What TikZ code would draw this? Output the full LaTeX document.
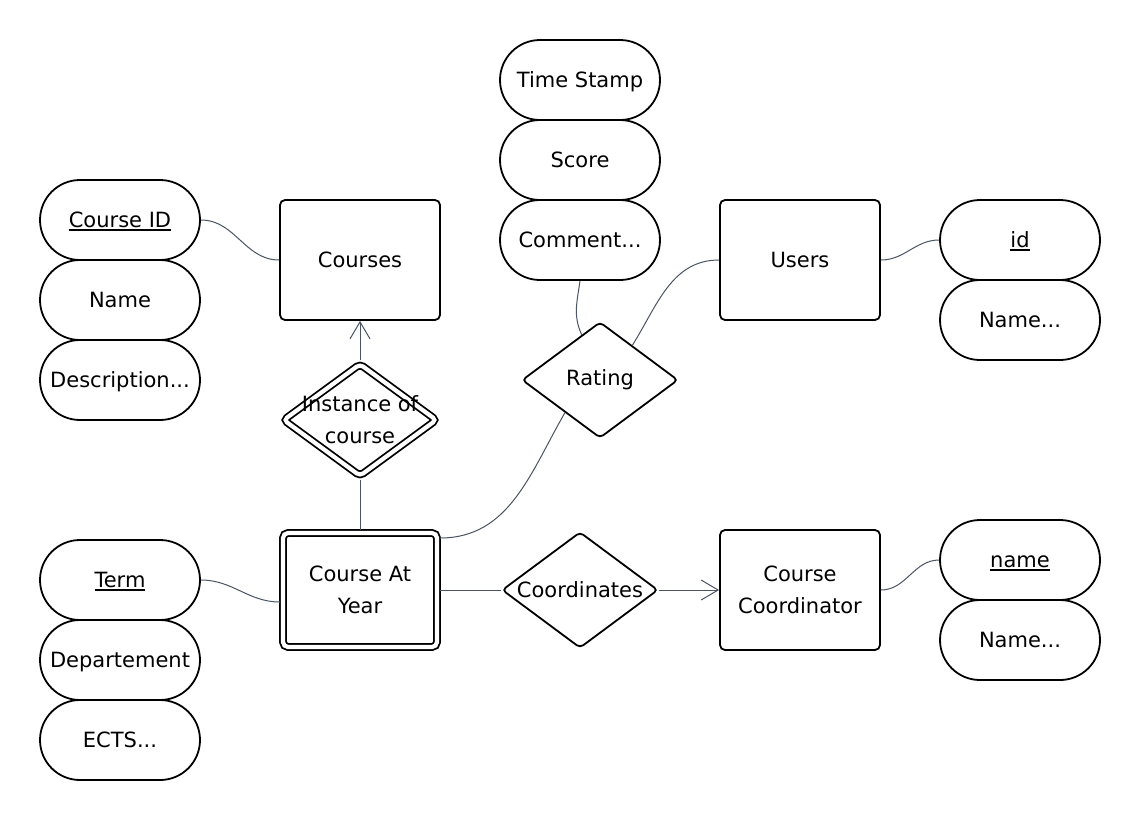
\documentclass[tikz,border=0pt]{standalone}
\usepackage{fontspec}
\setmainfont{DejaVu Sans}
\usetikzlibrary{arrows.meta,positioning,shapes.geometric,calc}
\definecolor{linkcol}{RGB}{74,84,98}

\begin{document}
\begin{tikzpicture}[x=1pt,y=1pt]
\tikzstyle{attr}=[draw, line width=1.8pt, rounded corners=40pt, minimum width=160pt, minimum height=80pt, text height=15pt, text depth=0pt, font=\fontsize{21}{32}\selectfont]
\tikzstyle{entity}=[draw, line width=1.8pt, rounded corners=5pt, minimum width=160pt, minimum height=120pt, align=center, font=\fontsize{21}{32}\selectfont]
\tikzstyle{weakentity}=[entity, double, double distance=4.2pt, minimum width=154pt, minimum height=114pt, outer sep=3pt]
\tikzstyle{rel}=[diamond, draw, line width=1.8pt, rounded corners=4pt, minimum width=156pt, minimum height=116pt, inner sep=-15pt, align=center, font=\fontsize{21}{32}\selectfont]
\tikzstyle{weakrel}=[rel, double, double distance=4.2pt, minimum width=155pt, minimum height=114pt, outer sep=3pt]
\tikzstyle{link}=[draw=linkcol, line width=1pt]
\tikzstyle{linkarrow}=[link, -{Straight Barb[length=17pt,width=20pt]}]

% key attribute, underlined
\newcommand{\keyattr}[1]{\setbox0\hbox{#1}\rlap{\rule[-3pt]{\wd0}{1.4pt}}\box0}

\path[use as bounding box, fill=white] (0,0) rectangle (1140,-820);

%% ========== ENTITIES ==========
\node[entity] (courses) at (360,-260) {Courses};
\node[entity] (users) at (800,-260) {Users};
\node[weakentity] (cay) at (360,-590) {Course At\\Year};
\node[entity] (cc) at (800,-590) {Course\\Coordinator};

%% ========== RELATIONS ==========
\node[weakrel] (inst) at (360,-420) {Instance of\\course};
\node[rel] (rating) at (600,-380) {Rating};
\node[rel] (coord) at (580,-590) {Coordinates};

%% ========== ATTRIBUTES ==========
% Courses
\node[attr] (course-id) at (120,-220) {\keyattr{Course ID}};
\node[attr] (course-name) at (120,-300) {Name};
\node[attr] (course-desc) at (120,-380) {Description...};

% Rating
\node[attr] (rating-ts) at (580,-80) {Time Stamp};
\node[attr] (rating-score) at (580,-160) {Score};
\node[attr] (rating-comment) at (580,-240) {Comment...};

% Users
\node[attr] (user-id) at (1020,-240) {\keyattr{id}};
\node[attr] (user-name) at (1020,-320) {Name...};

% Course At Year
\node[attr] (cay-term) at (120,-580) {\keyattr{Term}};
\node[attr] (cay-dept) at (120,-660) {Departement};
\node[attr] (cay-ects) at (120,-740) {ECTS...};

% Course Coordinator
\node[attr] (cc-name) at (1020,-560) {\keyattr{name}};
\node[attr] (cc-fullname) at (1020,-640) {Name...};

%% ========== CONNECTIONS ==========
\draw[link] (course-id.east) to[out=0,in=180] (courses.west);
\draw[link] (users.east) to[out=0,in=180] (user-id.west);
\draw[link] (cc.east) to[out=0,in=180] (cc-name.west);
\draw[link] (cay-term.east) to[out=0,in=180] ($(cay.west)+(0,-12)$);

\draw[link] (rating-comment.south) to[out=-98,in=115] (rating.112);
\draw[link] (rating.47) to[out=58,in=180] (users.west);
\draw[link] ($(cay.north east)+(0,-8)$) to[out=0,in=240] (rating.223);

\draw[linkarrow] (inst.north) -- (courses.south);
\draw[link] (inst.south) -- (cay.north);
\draw[link] (cay.east) -- (coord.west);
\draw[linkarrow] (coord.east) -- (cc.west);

\end{tikzpicture}
\end{document}
